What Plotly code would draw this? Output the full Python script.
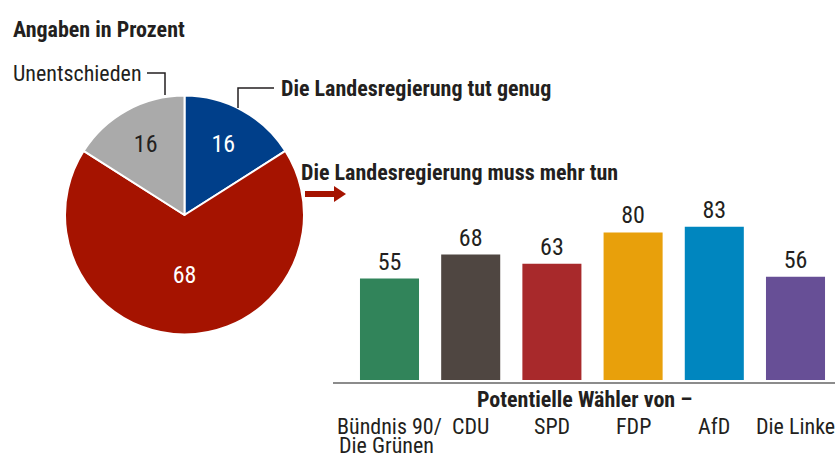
import plotly.graph_objects as go

W, H = 838, 455
FONT = "Roboto Condensed, Roboto, Liberation Sans, sans-serif"
DARK = "#231f20"

# Pie data
pie_labels = ["Die Landesregierung tut genug", "Die Landesregierung muss mehr tun", "Unentschieden"]
pie_values = [16, 68, 16]
pie_colors = ["#003f8a", "#a51300", "#aaaaaa"]
pie_text_colors = ["white", "white", DARK]

# Bar data
parties = ["Bündnis 90/<br>Die Grünen", "CDU", "SPD", "FDP", "AfD", "Die Linke"]
bar_values = [55, 68, 63, 80, 83, 56]
bar_colors = ["#31845a", "#4f4641", "#a8292b", "#e8a00b", "#0086bf", "#674f96"]


def px(x):
    return x / W


def py(y):
    return 1 - y / H


fig = go.Figure()

fig.add_trace(go.Pie(
    labels=pie_labels, values=pie_values, sort=False, direction="clockwise", rotation=0,
    marker=dict(colors=pie_colors, line=dict(color="white", width=2)),
    textinfo="value", textposition="inside", insidetextorientation="horizontal",
    textfont=dict(family=FONT, size=24, color=pie_text_colors),
    domain=dict(x=[px(65), px(304)], y=[py(335), py(95)]),
    showlegend=False, hoverinfo="label+value",
))

fig.add_trace(go.Bar(
    x=parties, y=bar_values, marker=dict(color=bar_colors, line=dict(width=0)),
    text=bar_values, textposition="outside", cliponaxis=False,
    textfont=dict(family=FONT, size=24, color=DARK),
    xaxis="x", yaxis="y", showlegend=False,
))

fig.update_layout(
    width=W, height=H, margin=dict(l=0, r=0, t=0, b=0),
    paper_bgcolor="white", plot_bgcolor="white",
    bargap=0.273,
    xaxis=dict(domain=[px(348.9), px(836.1)], range=[-0.5, len(parties) - 0.5], autorange=False,
               showticklabels=False, showgrid=False, zeroline=False, showline=False, fixedrange=True),
    yaxis=dict(domain=[py(380), py(195.5)], range=[0, 100], autorange=False, showticklabels=False,
               showgrid=False, zeroline=False, showline=False, fixedrange=True),
    font=dict(family=FONT, color=DARK),
)

ann = []
# Title
ann.append(dict(text="<b>Angaben in Prozent</b>", x=px(11), y=py(30), xref="paper", yref="paper",
                xanchor="left", yanchor="middle", showarrow=False, font=dict(size=22, family=FONT, color=DARK)))
ann.append(dict(text="Unentschieden", x=px(144), y=py(73), xref="paper", yref="paper",
                xanchor="right", yanchor="middle", showarrow=False, font=dict(size=22, family=FONT, color=DARK)))
ann.append(dict(text="<b>Die Landesregierung tut genug</b>", x=px(279), y=py(89), xref="paper", yref="paper",
                xanchor="left", yanchor="middle", showarrow=False, font=dict(size=22, family=FONT, color=DARK)))
ann.append(dict(text="<b>Die Landesregierung muss mehr tun</b>", x=px(299), y=py(172), xref="paper", yref="paper",
                xanchor="left", yanchor="middle", showarrow=False, font=dict(size=22, family=FONT, color=DARK)))
ann.append(dict(text="<b>Potentielle Wähler von –</b>", x=px(584), y=py(399), xref="paper", yref="paper",
                xanchor="center", yanchor="middle", showarrow=False, font=dict(size=22, family=FONT, color=DARK)))
for p in parties:
    lines = p.split("<br>")
    ann.append(dict(text=lines[0], x=p, y=py(426), xref="x", yref="paper", xanchor="center", yanchor="middle",
                    showarrow=False, font=dict(size=22, family=FONT, color=DARK)))
    for i, extra in enumerate(lines[1:], start=1):
        ann.append(dict(text=extra, x=p, xshift=-53, y=py(426 + 19 * i), xref="x", yref="paper",
                        xanchor="left", yanchor="middle", showarrow=False,
                        font=dict(size=22, family=FONT, color=DARK)))
fig.update_layout(annotations=ann)

shapes = []
# leader lines
shapes.append(dict(type="path", xref="paper", yref="paper",
                   path=f"M {px(147)},{py(73)} L {px(165)},{py(73)} L {px(165)},{py(95)}",
                   line=dict(color=DARK, width=1.5)))
shapes.append(dict(type="path", xref="paper", yref="paper",
                   path=f"M {px(274)},{py(88)} L {px(238)},{py(88)} L {px(238)},{py(108)}",
                   line=dict(color=DARK, width=1.5)))
# arrow
shapes.append(dict(type="path", xref="paper", yref="paper",
                   path=(f"M {px(305)},{py(191)} L {px(334)},{py(191)} L {px(334)},{py(186)} "
                         f"L {px(346)},{py(194)} L {px(334)},{py(202)} L {px(334)},{py(197)} "
                         f"L {px(305)},{py(197)} Z"),
                   fillcolor="#a51300", line=dict(width=0)))
# baseline
shapes.append(dict(type="line", xref="paper", yref="paper", x0=px(333), x1=px(835), y0=py(383), y1=py(383),
                   line=dict(color="#8c8c8c", width=2)))
fig.update_layout(shapes=shapes)

fig.write_html("out.html", config={"displayModeBar": False},
               post_script="document.body.style.margin='0';document.body.style.overflow='hidden';")
